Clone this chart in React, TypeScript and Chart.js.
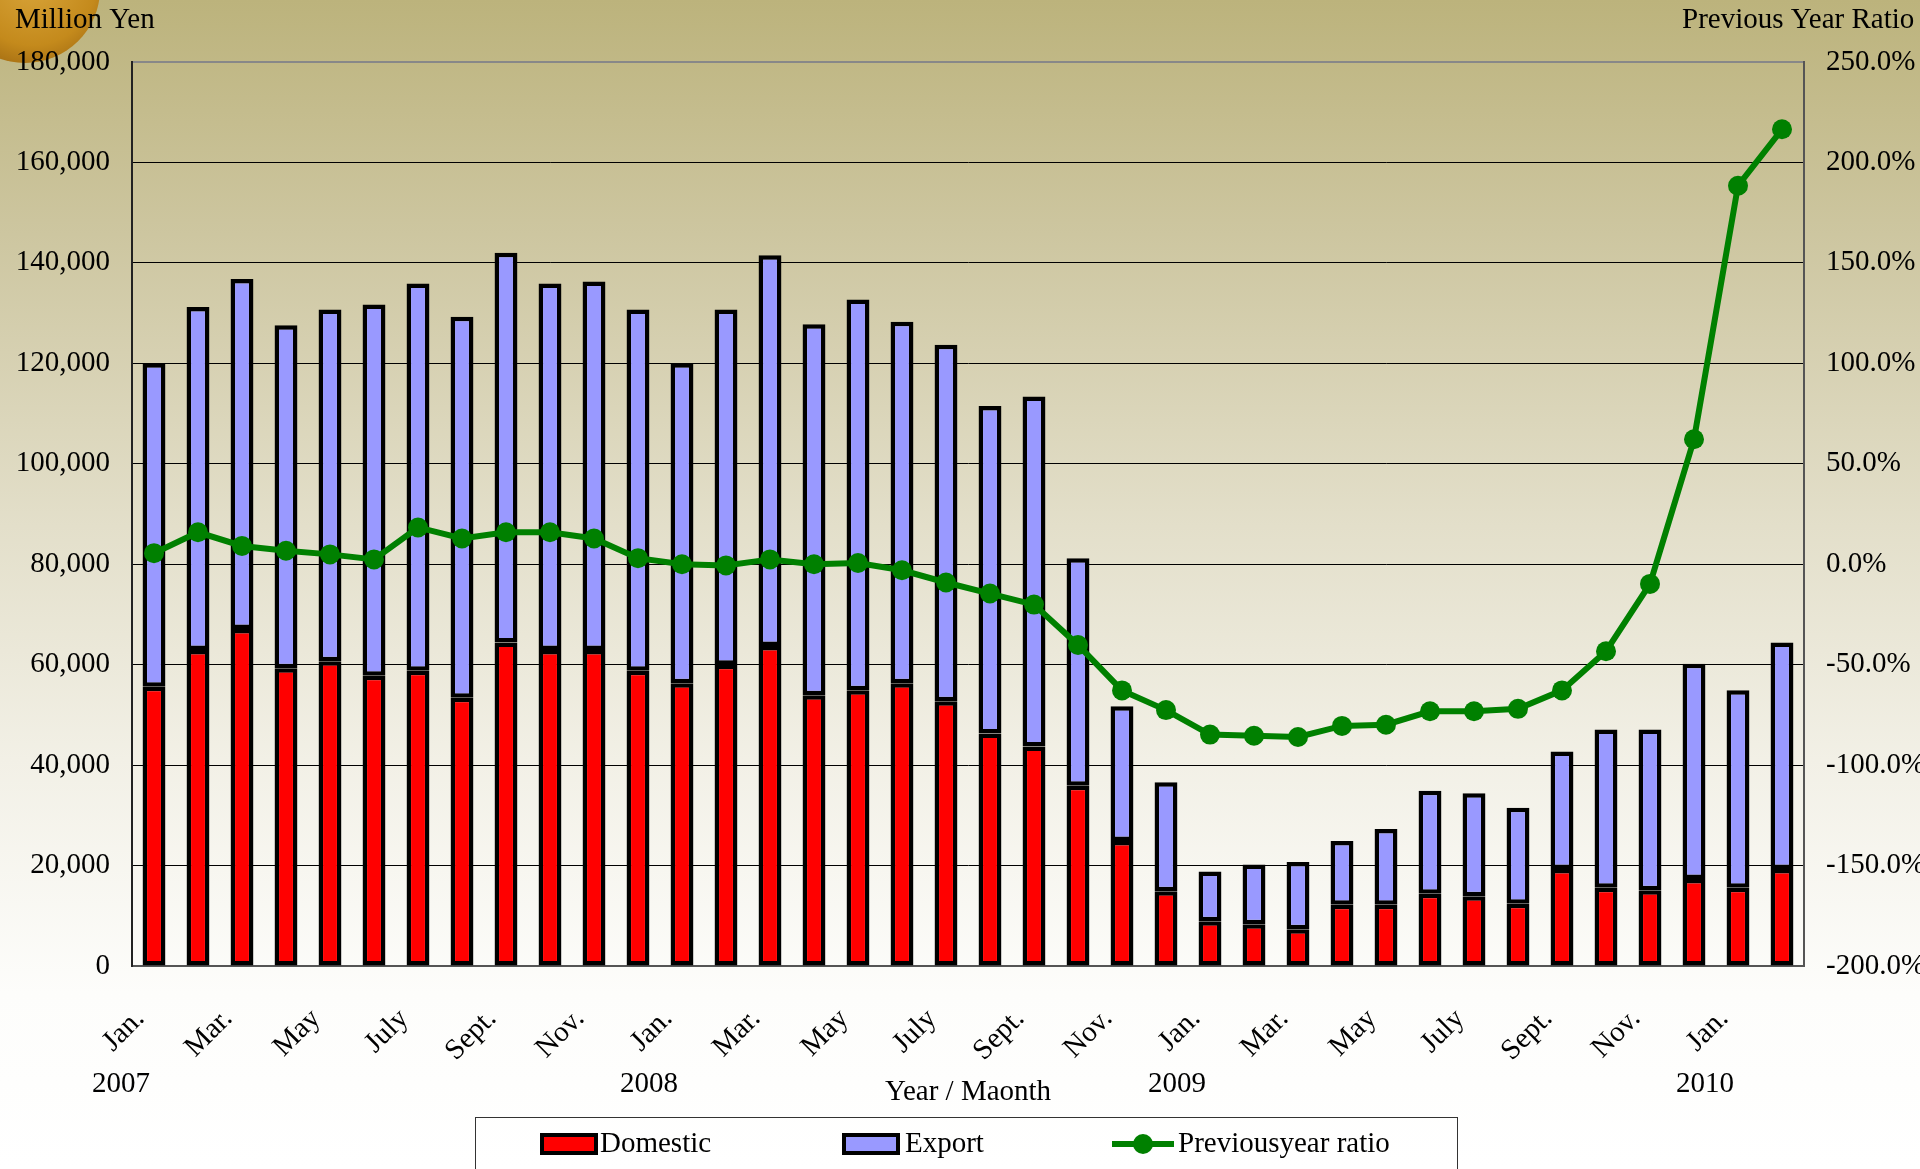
import React, { useEffect, useRef } from "react";
import { Chart, registerables } from "chart.js";

Chart.register(...registerables);

const months = ["Jan.", "Feb.", "Mar.", "Apr.", "May", "June", "July", "Aug.", "Sept.", "Oct.", "Nov.", "Dec."];
const years = ["2007", "2008", "2009", "2010"];
const categories: string[] = [];
for (let i = 0; i < 38; i++) categories.push(months[i % 12]);

const domestic = [
  55.6, 62.9, 67.1, 59.3, 60.7, 57.8, 58.8, 53.4, 64.4, 62.9, 62.9, 58.8,
  56.3, 60.0, 63.7, 53.9, 54.9, 56.3, 52.7, 46.3, 43.7, 35.9, 24.9, 14.9,
  8.9, 8.3, 7.3, 12.2, 12.2, 14.4, 13.9, 12.4, 19.3, 15.6, 15.1, 17.3,
  15.6, 19.3,
].map((v) => v * 1000);

const totals = [
  120.0, 131.2, 136.8, 127.6, 130.7, 131.7, 135.9, 129.3, 142.0, 135.9, 136.3, 130.7,
  120.0, 130.7, 141.5, 127.8, 132.7, 128.3, 123.7, 111.5, 113.4, 81.2, 51.7, 36.6,
  18.8, 20.2, 20.7, 24.9, 27.3, 34.9, 34.4, 31.5, 42.7, 47.1, 47.1, 60.2,
  54.9, 64.4,
].map((v) => v * 1000);

const exportValues = totals.map((t, i) => t - domestic[i]);

const ratio = [
  5.5, 15.9, 9.1, 6.7, 4.9, 2.4, 18.3, 12.8, 15.9, 15.9, 12.8, 3.0,
  0.0, -0.6, 2.4, 0.0, 0.6, -3.0, -9.1, -14.6, -20.1, -40.2, -62.8, -72.6,
  -84.8, -85.4, -86.0, -80.5, -79.9, -73.2, -73.2, -72.0, -62.8, -43.3, -9.8, 62.2,
  188.4, 216.5,
];

const leftTicks = { min: 0, max: 180000, step: 20000 };
const rightTicks = { min: -200, max: 250, step: 50 };

const FONT = "'Liberation Serif', 'Times New Roman', serif";
const FS = 29;

const extras = {
  id: "extras",
  afterDraw(chart: any) {
    const ctx = chart.ctx;
    const x = chart.scales.x;
    ctx.save();
    ctx.fillStyle = "#000";
    ctx.font = `${FS}px ${FONT}`;
    ctx.textBaseline = "middle";
    ctx.textAlign = "left";
    ctx.fillText("Million Yen", 15, 20);
    ctx.fillText("Previous Year Ratio", 1682, 20);
    ctx.textAlign = "center";
    years.forEach((y, k) => {
      const px = x.getPixelForValue(k * 12) - 33;
      ctx.fillText(y, px, 1084);
    });
    ctx.fillText("Year / Maonth", 968, 1092);
    // legend
    ctx.strokeStyle = "#333";
    ctx.lineWidth = 1;
    ctx.strokeRect(475.5, 1117.5, 982, 60);
    const sy = 1144;
    const drawSwatch = (sx: number, color: string) => {
      ctx.fillStyle = "#000";
      ctx.fillRect(sx, sy - 11, 58, 22);
      ctx.fillStyle = color;
      ctx.fillRect(sx + 4, sy - 7, 50, 14);
    };
    drawSwatch(540, "#FF0000");
    drawSwatch(842, "#9999FF");
    ctx.strokeStyle = "#008000";
    ctx.lineWidth = 6;
    ctx.beginPath();
    ctx.moveTo(1112, sy);
    ctx.lineTo(1174, sy);
    ctx.stroke();
    ctx.fillStyle = "#008000";
    ctx.beginPath();
    ctx.arc(1143, sy, 10, 0, Math.PI * 2);
    ctx.fill();
    ctx.fillStyle = "#000";
    ctx.textAlign = "left";
    ctx.fillText("Domestic", 600, sy);
    ctx.fillText("Export", 905, sy);
    ctx.fillText("Previousyear ratio", 1178, sy);
    ctx.restore();
  },
};

export default function App() {
  const ref = useRef<HTMLCanvasElement | null>(null);
  useEffect(() => {
    if (!ref.current) return;
    const chart = new Chart(ref.current, {
      type: "bar",
      data: {
        labels: categories,
        datasets: [
          {
            type: "line",
            label: "Previousyear ratio",
            data: ratio,
            yAxisID: "y1",
            borderColor: "#008000",
            backgroundColor: "#008000",
            borderWidth: 6,
            pointRadius: 10,
            pointBorderWidth: 0,
            pointBackgroundColor: "#008000",
            tension: 0,
            order: 0,
          } as any,
          {
            label: "Domestic",
            data: domestic,
            backgroundColor: "#FF0000",
            borderColor: "#000000",
            borderWidth: 4.5,
            borderSkipped: false,
            barPercentage: 0.52,
            categoryPercentage: 1,
            yAxisID: "y",
            stack: "s",
            order: 1,
          },
          {
            label: "Export",
            data: exportValues,
            backgroundColor: "#9999FF",
            borderColor: "#000000",
            borderWidth: 4.5,
            borderSkipped: false,
            barPercentage: 0.52,
            categoryPercentage: 1,
            yAxisID: "y",
            stack: "s",
            order: 1,
          },
        ],
      },
      options: {
        responsive: false,
        animation: false,
        layout: { padding: { top: 62, left: 0, right: 0, bottom: 0 } },
        plugins: { legend: { display: false }, tooltip: { enabled: false } },
        font: { family: FONT },
        scales: {
          x: {
            stacked: true,
            grid: { display: false, drawTicks: false },
            border: { display: true, color: "#555", width: 2 },
            ticks: {
              autoSkip: false,
              maxRotation: 45,
              minRotation: 45,
              padding: 36,
              labelOffset: -14,
              color: "#000",
              font: { family: FONT, size: FS },
              callback: (_v: any, i: number) => (i % 2 === 0 ? categories[i] : ""),
            },
            afterFit: (s: any) => {
              s.height = 203;
            },
          },
          y: {
            stacked: true,
            position: "left",
            min: leftTicks.min,
            max: leftTicks.max,
            grid: {
              color: (c: any) => (c.tick && c.tick.value === leftTicks.max ? "#888" : "#000"),
              lineWidth: (c: any) => (c.tick && c.tick.value === leftTicks.max ? 2 : 1),
              drawTicks: false,
            },
            border: { display: true, color: "#222", width: 2 },
            ticks: {
              stepSize: leftTicks.step,
              padding: 22,
              color: "#000",
              font: { family: FONT, size: FS },
              callback: (v: any) => Number(v).toLocaleString("en-US"),
            },
            afterFit: (s: any) => {
              s.width = 132;
            },
          },
          y1: {
            position: "right",
            min: rightTicks.min,
            max: rightTicks.max,
            grid: { display: false, drawTicks: false },
            border: { display: true, color: "#555", width: 2 },
            ticks: {
              stepSize: rightTicks.step,
              padding: 22,
              color: "#000",
              font: { family: FONT, size: FS },
              callback: (v: any) => Number(v).toFixed(1) + "%",
            },
            afterFit: (s: any) => {
              s.width = 116;
            },
          },
        },
      },
      plugins: [extras],
    });
    return () => chart.destroy();
  }, []);

  return (
    <div
      style={{
        position: "fixed",
        left: 0,
        top: 0,
        width: 1920,
        height: 1169,
        overflow: "hidden",
        background:
          "linear-gradient(to bottom, #bcb37c 0%, #cdc6a0 20%, #e3dfca 45%, #f2f0e6 65%, #fdfdfb 85%, #ffffff 100%)",
      }}
    >
      <div
        style={{
          position: "absolute",
          left: -50,
          top: -85,
          width: 150,
          height: 148,
          borderRadius: "50%",
          background: "radial-gradient(circle at 55% 45%, #d9a53a 0%, #c48a1c 55%, #9a6410 85%, #7a4c08 100%)",
        }}
      />
      <canvas ref={ref} width={1920} height={1169} style={{ position: "absolute", left: 0, top: 0 }} />
    </div>
  );
}
